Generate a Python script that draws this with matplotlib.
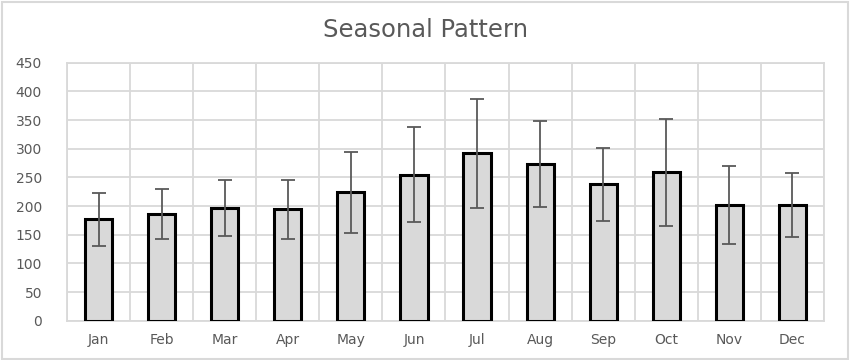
import matplotlib
matplotlib.use('Agg')
import matplotlib.pyplot as plt
from matplotlib.patches import Rectangle
import numpy as np

months = ["Jan", "Feb", "Mar", "Apr", "May", "Jun", "Jul", "Aug", "Sep", "Oct", "Nov", "Dec"]
means = [177, 186, 196, 194, 224, 255, 292, 274, 238, 259, 202, 202]
errors = [46, 43, 49, 51, 71, 83, 95, 75, 64, 93, 68, 56]

grid_col = "#d9d9d9"
text_col = "#595959"
plt.rcParams['font.family'] = ['DejaVu Sans']

fig = plt.figure(figsize=(8.51, 3.6), dpi=100)
ax = fig.add_axes([0.0787, 0.1092, 0.8896, 0.7166])

x = np.arange(len(months))
ax.bar(x, means, width=0.43, color="#d9d9d9", edgecolor="black", linewidth=2.2, zorder=3)
ax.errorbar(x, means, yerr=errors, fmt='none', ecolor="#595959", elinewidth=1.3,
            capsize=5, capthick=1.3, zorder=4)

ax.set_xlim(-0.5, len(months) - 0.5)
ax.set_ylim(0, 450)
ax.set_yticks(np.arange(0, 451, 50))
ax.set_xticks(x)
ax.set_xticklabels(months)
ax.set_xticks(np.arange(-0.5, len(months), 1), minor=True)
ax.grid(axis='y', which='major', color=grid_col, linewidth=1.3, zorder=0)
ax.grid(axis='x', which='minor', color=grid_col, linewidth=1.3, zorder=0)
ax.tick_params(which='both', length=0)
ax.tick_params(axis='y', labelsize=10, labelcolor=text_col, pad=18)
ax.tick_params(axis='x', labelsize=10, labelcolor=text_col, pad=9)
for s in ax.spines.values():
    s.set_color(grid_col)
    s.set_linewidth(1.3)

fig.suptitle("Seasonal Pattern", x=0.5, y=0.95, fontsize=17.5, color=text_col)
fig.patches.append(Rectangle((0.002, 0.004), 0.994, 0.99, transform=fig.transFigure,
                             fill=False, edgecolor=grid_col, linewidth=1.5))

fig.savefig("out.png", dpi=100)
